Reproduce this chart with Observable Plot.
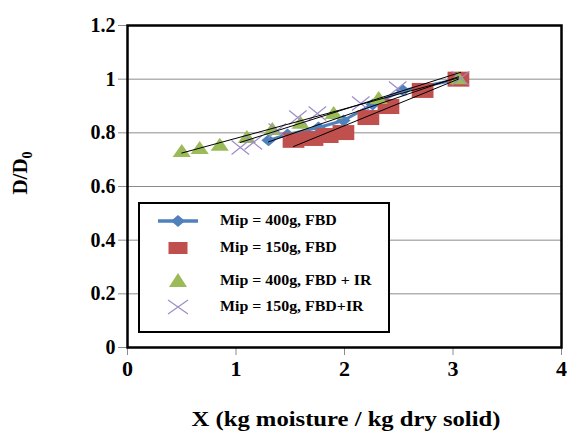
<!DOCTYPE html>
<html>
<head>
<meta charset="utf-8">
<script src="https://cdn.jsdelivr.net/npm/d3@7"></script>
<script src="https://cdn.jsdelivr.net/npm/@observablehq/plot@0.6"></script>
<style>
  html, body { margin: 0; padding: 0; background: #fff; }
  #wrap { position: relative; width: 567px; height: 434px; overflow: hidden; font-family: "Liberation Serif", "Times New Roman", serif; font-weight: bold; }
  #legend { position: absolute; left: 138px; top: 202px; width: 248px; height: 127px; border: 2px solid #000; background: #fff; }
  .row { position: absolute; left: 0; height: 20px; width: 100%; }
  .row svg { position: absolute; left: 16px; top: 0; }
  .row span { position: absolute; left: 80px; top: 0px; font-size: 15px; line-height: 18px; white-space: nowrap; transform: scaleX(1.06); transform-origin: left center; }
  #ytitle { position: absolute; left: 22px; top: 173px; transform: translate(-50%, -50%) rotate(-90deg); font-size: 21px; white-space: nowrap; }
  #xtitle { position: absolute; left: 346px; top: 419px; transform: translate(-50%, -50%) scaleX(1.12); font-size: 22px; line-height: 24px; white-space: nowrap; }
</style>
</head>
<body>
<div id="wrap"></div>
<script>
// ---- data ----
const seriesNames = ["Mip = 400g, FBD", "Mip = 150g, FBD", "Mip = 400g, FBD + IR", "Mip = 150g, FBD+IR"];

const blueX = [1.30, 1.475, 1.76, 1.99, 2.26, 2.54, 3.05];
const blueY = [0.772, 0.794, 0.82, 0.846, 0.906, 0.958, 1.0];

const redX = [1.53, 1.705, 1.845, 1.99, 2.22, 2.405, 2.72, 3.05];
const redY = [0.772, 0.779, 0.79, 0.801, 0.857, 0.898, 0.958, 1.0];

const greenX = [0.50, 0.665, 0.85, 1.10, 1.335, 1.595, 1.90, 2.315, 3.05];
const greenY = [0.734, 0.745, 0.757, 0.786, 0.816, 0.839, 0.876, 0.932, 1.005];

const purpleX = [1.04, 1.16, 1.38, 1.57, 1.75, 2.15, 2.49, 3.07];
const purpleY = [0.745, 0.764, 0.809, 0.857, 0.872, 0.909, 0.965, 1.003];

const xTicks = [0, 1, 2, 3, 4];
const yTicks = [0, 0.2, 0.4, 0.6, 0.8, 1, 1.2];

const colors = { blue: "#4f81bd", red: "#c0504d", green: "#9bbb59", purple: "#9d8cc9" };

// ---- build tables ----
const toRows = (xs, ys) => xs.map((x, i) => ({ x, y: ys[i] }));
const blue = toRows(blueX, blueY);
const red = toRows(redX, redY);
const green = toRows(greenX, greenY);
const purple = toRows(purpleX, purpleY);

// ---- custom marker shapes ----
const rectSym = { draw(ctx, size) { const r = Math.sqrt(size / Math.PI); ctx.rect(-1.45 * r, -r, 2.9 * r, 2 * r); } };
const triSym = { draw(ctx, size) { const r = Math.sqrt(size / Math.PI); ctx.moveTo(0, -r); ctx.lineTo(1.4 * r, r); ctx.lineTo(-1.4 * r, r); ctx.closePath(); } };
const diaSym = { draw(ctx, size) { const r = Math.sqrt(size / Math.PI); ctx.moveTo(0, -r); ctx.lineTo(1.2 * r, 0); ctx.lineTo(0, r); ctx.lineTo(-1.2 * r, 0); ctx.closePath(); } };
const xSym = { draw(ctx, size) { const r = Math.sqrt(size / Math.PI); ctx.moveTo(-1.25 * r, -r); ctx.lineTo(1.25 * r, r); ctx.moveTo(-1.25 * r, r); ctx.lineTo(1.25 * r, -r); } };

const fmt = d => String(d);

const chart = Plot.plot({
  width: 567,
  height: 434,
  marginLeft: 127,
  marginRight: 6,
  marginTop: 25,
  marginBottom: 87,
  style: { fontFamily: "'Liberation Serif', 'Times New Roman', serif", fontWeight: "bold", fontSize: "20px", background: "white", overflow: "visible" },
  x: { domain: [0, 4], ticks: xTicks },
  y: { domain: [0, 1.2], ticks: yTicks },
  marks: [
    Plot.gridY(yTicks, { stroke: "#8c8c8c", strokeOpacity: 1, strokeWidth: 1 }),
    Plot.axisY(yTicks, { tickSize: 9, tickPadding: 3, stroke: "#8c8c8c", fill: "#000", label: null, fontSize: 20, fontWeight: "bold", tickFormat: fmt }),
    Plot.axisX(xTicks, { tickSize: 8, tickPadding: 5, stroke: "#8c8c8c", fill: "#000", label: null, fontSize: 22, fontWeight: "bold", tickFormat: fmt }),
    Plot.line(blue, { x: "x", y: "y", stroke: colors.blue, strokeWidth: 3 }),
    Plot.dot(blue, { x: "x", y: "y", symbol: diaSym, r: 6, fill: colors.blue, stroke: "none" }),
    Plot.dot(red, { x: "x", y: "y", symbol: rectSym, r: 7.5, fill: colors.red, stroke: "none" }),
    Plot.dot(green, { x: "x", y: "y", symbol: triSym, r: 6.5, fill: colors.green, stroke: "none" }),
    Plot.dot(purple, { x: "x", y: "y", symbol: xSym, r: 7, fill: "none", stroke: colors.purple, strokeWidth: 1.2 }),
    Plot.linearRegressionY(blue, { x: "x", y: "y", stroke: "#000", strokeWidth: 1, ci: 0 }),
    Plot.linearRegressionY(red, { x: "x", y: "y", stroke: "#000", strokeWidth: 1, ci: 0 }),
    Plot.linearRegressionY(green, { x: "x", y: "y", stroke: "#000", strokeWidth: 1, ci: 0 }),
    Plot.linearRegressionY(purple, { x: "x", y: "y", stroke: "#000", strokeWidth: 1, ci: 0 }),
    Plot.frame({ stroke: "#000", strokeWidth: 2.5 })
  ]
});

const wrap = document.getElementById("wrap");
wrap.appendChild(chart);

// ---- titles ----
const yt = document.createElement("div");
yt.id = "ytitle";
yt.innerHTML = "D/D<sub style='font-size:14px'>0</sub>";
wrap.appendChild(yt);
const xt = document.createElement("div");
xt.id = "xtitle";
xt.textContent = "X (kg moisture / kg dry solid)";
wrap.appendChild(xt);

// ---- legend ----
const icons = [
  `<svg width="44" height="20"><line x1="2" y1="10" x2="42" y2="10" stroke="${colors.blue}" stroke-width="3.5"/><path d="M22,4 L29,10 L22,16 L15,10Z" fill="${colors.blue}"/></svg>`,
  `<svg width="44" height="20"><rect x="12.5" y="4" width="19" height="12" fill="${colors.red}"/></svg>`,
  `<svg width="44" height="20"><path d="M22,2 L31,16 L13,16Z" fill="${colors.green}"/></svg>`,
  `<svg width="44" height="20"><path d="M12,3 L32,17 M12,17 L32,3" stroke="${colors.purple}" stroke-width="1.2" fill="none"/></svg>`
];
const rowTops = [7, 34, 67, 93];
const legend = document.createElement("div");
legend.id = "legend";
seriesNames.forEach((name, i) => {
  const row = document.createElement("div");
  row.className = "row";
  row.style.top = rowTops[i] + "px";
  row.innerHTML = icons[i] + `<span>${name}</span>`;
  legend.appendChild(row);
});
wrap.appendChild(legend);
</script>
</body>
</html>
